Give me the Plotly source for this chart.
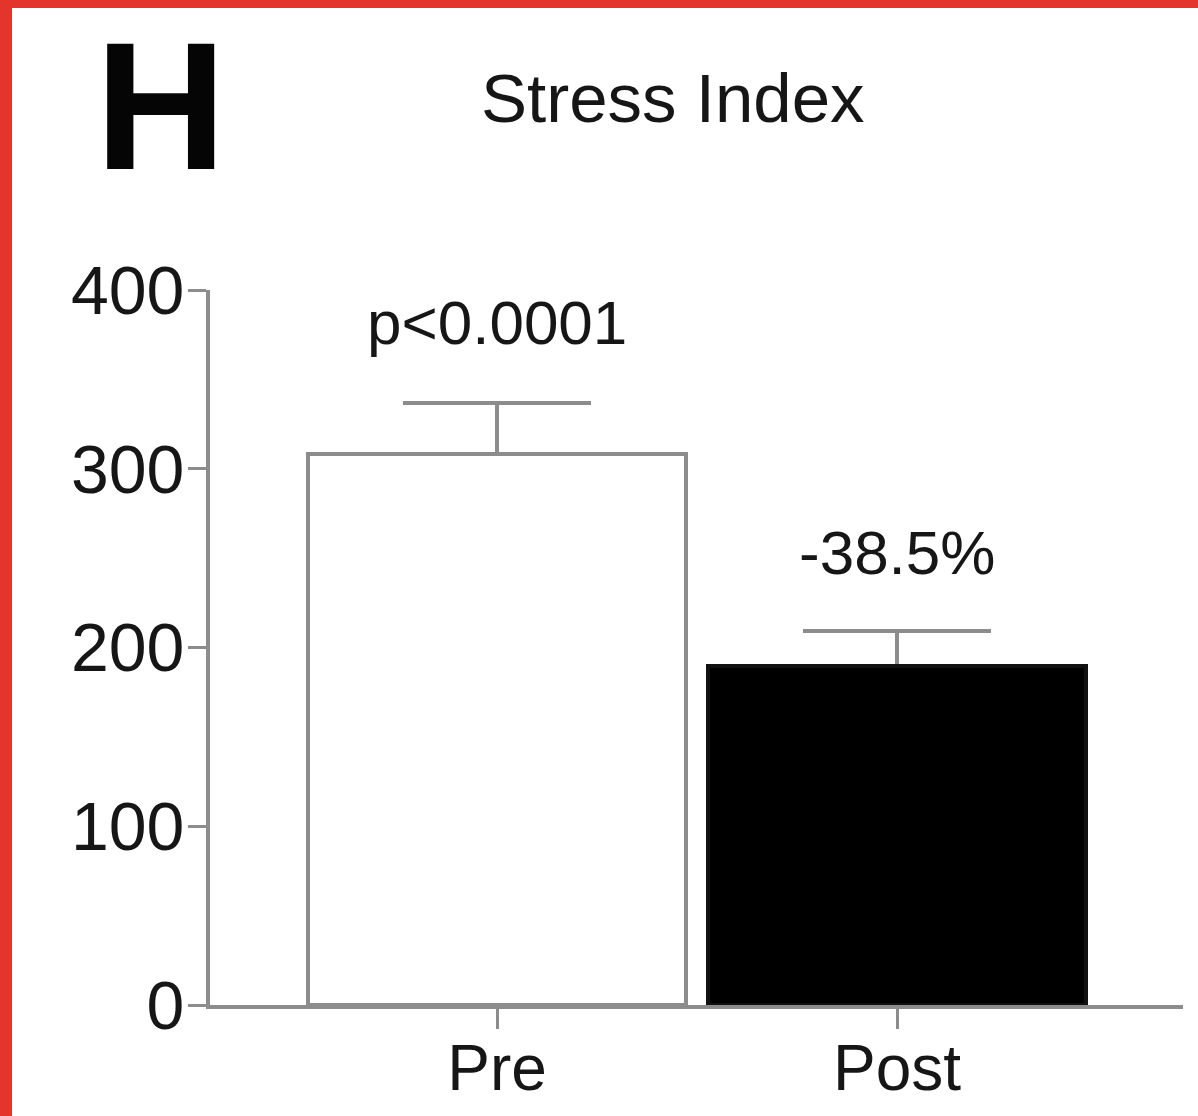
import plotly.graph_objects as go

# Stress index before and after the intervention
categories = ["Pre", "Post"]
means = [308.0, 189.4]
sem = [29.0, 20.0]
p_label = "p<0.0001"
y_ticks = [0, 100, 200, 300, 400]

pct_change = (means[1] / means[0] - 1) * 100
change_label = f"{pct_change:.1f}%"

FONT = "Liberation Sans, Arial, sans-serif"
AXIS_GREY = "#8c8c8c"
TEXT = "#161616"

# plot-area pixel geometry used to place items drawn in paper space
W, H = 1198, 1116
L, R, T, B = 210, 15, 290, 111
pw, ph = W - L - R, H - T - B


def px_x(px):
    return (px - L) / pw


def px_y(py):
    return (H - B - py) / ph


x_pos = list(range(len(categories)))
BAR_W = 0.945

fig = go.Figure()
# error bars sit on an invisible copy of the bars so the visible bars,
# drawn afterwards, hide the lower cap at each bar top
fig.add_trace(go.Bar(
    x=x_pos,
    y=means,
    width=BAR_W,
    marker=dict(color="rgba(0,0,0,0)", line=dict(width=0)),
    error_y=dict(type="data", symmetric=False, array=sem,
                 arrayminus=[0] * len(sem),
                 color=AXIS_GREY, thickness=4, width=94),
    showlegend=False,
    hoverinfo="skip",
))
fig.add_trace(go.Bar(
    x=x_pos,
    y=means,
    width=BAR_W,
    marker=dict(color=["white", "black"],
                line=dict(color=[AXIS_GREY, "#111111"], width=4)),
    showlegend=False,
    hoverinfo="skip",
))

annotations = [
    dict(x=0, y=means[0] + sem[0], xref="x", yref="y", text=p_label,
         showarrow=False, yanchor="middle", yshift=80,
         font=dict(family=FONT, size=62, color=TEXT)),
    dict(x=1, y=means[1] + sem[1], xref="x", yref="y", text=change_label,
         showarrow=False, yanchor="middle", yshift=78,
         font=dict(family=FONT, size=62, color=TEXT)),
    dict(x=px_x(673), y=px_y(99), xref="paper", yref="paper",
         text="Stress Index", showarrow=False,
         xanchor="center", yanchor="middle",
         font=dict(family=FONT, size=69, color=TEXT)),
    dict(x=px_x(160), y=px_y(106), xref="paper", yref="paper",
         text="<b>H</b>", showarrow=False,
         xanchor="center", yanchor="middle",
         font=dict(family=FONT, size=182, color="#050505")),
]

# red panel frame along the left and top edges
shapes = [
    dict(type="rect", xref="paper", yref="paper",
         x0=px_x(0), x1=px_x(12), y0=px_y(H), y1=px_y(0),
         fillcolor="#e3352b", line=dict(width=0), layer="above"),
    dict(type="rect", xref="paper", yref="paper",
         x0=px_x(0), x1=px_x(W), y0=px_y(8), y1=px_y(0),
         fillcolor="#e3352b", line=dict(width=0), layer="above"),
]

fig.update_layout(
    width=W, height=H,
    margin=dict(l=L, r=R, t=T, b=B, pad=0, autoexpand=False),
    paper_bgcolor="white",
    plot_bgcolor="white",
    annotations=annotations,
    shapes=shapes,
    barmode="overlay",
    bargap=0,
    xaxis=dict(
        range=[-0.7175, 1.715],
        tickmode="array", tickvals=x_pos, ticktext=categories,
        showline=True, linecolor=AXIS_GREY, linewidth=4,
        ticks="outside", ticklen=20, tickwidth=3, tickcolor=AXIS_GREY,
        ticklabelstandoff=-16,
        showgrid=False, zeroline=False, automargin=False,
        tickfont=dict(family=FONT, size=64, color=TEXT),
    ),
    yaxis=dict(
        range=[0, 400],
        tickmode="array", tickvals=y_ticks,
        showline=True, linecolor=AXIS_GREY, linewidth=4,
        ticks="outside", ticklen=18, tickwidth=3, tickcolor=AXIS_GREY,
        ticklabelstandoff=-10,
        showgrid=False, zeroline=False, automargin=False,
        tickfont=dict(family=FONT, size=68, color=TEXT),
    ),
)

fig.write_html("out.html")
